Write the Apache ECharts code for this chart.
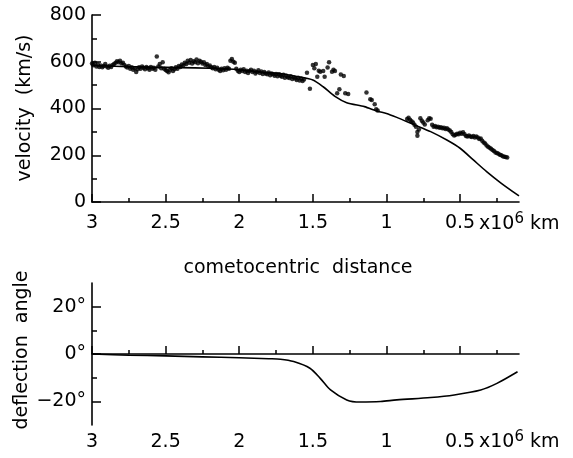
<!DOCTYPE html>
<html><head><meta charset="utf-8">
<script src="https://cdn.jsdelivr.net/npm/echarts@6/dist/echarts.min.js"></script>
<style>html,body{margin:0;padding:0;background:#fff}#c{width:573px;height:458px}</style>
</head><body><div id="c"></div>
<script>
// Model velocity curve (distance in 10^6 km, velocity km/s)
const modelDist = [3.0, 2.8, 2.6, 2.4, 2.2, 2.0, 1.84, 1.72, 1.6, 1.5, 1.43, 1.35, 1.27, 1.15, 1.06, 1.0, 0.93, 0.81, 0.7, 0.59, 0.5, 0.41, 0.32, 0.22, 0.1];
const modelVel  = [584, 580, 577, 575, 572, 566, 555, 550, 536, 522, 493, 452, 425, 408, 388, 379, 362, 330, 301, 265, 230, 180, 130, 80, 26];

// Measured velocity (dots)
const dotDist = [
 3.00,2.99,2.98,2.97,2.96,2.95,2.94,2.93,2.92,2.91,2.90,2.89,2.88,2.87,2.86,2.85,2.84,2.83,2.82,2.81,
 2.80,2.79,2.78,2.77,2.76,2.75,2.74,2.73,2.72,2.71,2.70,2.69,2.68,2.67,2.66,2.65,2.64,2.63,2.62,2.61,
 2.60,2.59,2.58,2.57,2.56,2.55,2.54,2.53,2.52,2.51,2.50,2.49,2.48,2.47,2.46,2.45,2.44,2.43,2.42,2.41,
 2.40,2.39,2.38,2.37,2.36,2.35,2.34,2.33,2.32,2.31,2.30,2.29,2.28,2.27,2.26,2.25,2.24,2.23,2.22,2.21,
 2.20,2.19,2.18,2.17,2.16,2.15,2.14,2.13,2.12,2.11,2.10,2.09,2.08,2.07,2.06,2.05,2.04,2.03,2.02,2.01,
 2.00,1.99,1.98,1.97,1.96,1.95,1.94,1.93,1.92,1.91,1.90,1.89,1.88,1.87,1.86,1.85,1.84,1.83,1.82,1.81,
 1.80,1.79,1.78,1.77,1.76,1.75,1.74,1.73,1.72,1.71,1.70,1.69,1.68,1.67,1.66,1.65,1.64,1.63,1.62,1.61,
 1.60,1.59,1.58,1.57,1.56,
 1.54,1.52,1.50,1.49,1.48,1.47,1.46,1.45,1.43,1.42,1.40,1.39,1.37,1.36,1.35,1.31,1.29,1.335,1.32,1.28,1.26,1.136,1.11,1.10,1.08,1.07,1.06,
 0.86,0.85,0.84,0.83,0.82,0.81,0.80,0.79,0.79,0.78,0.77,0.76,0.75,0.74,0.72,0.71,0.70,0.69,0.68,0.67,
 0.66,0.65,0.64,0.63,0.62,0.61,0.60,0.59,0.58,0.57,0.56,0.55,0.54,0.53,0.52,0.51,0.50,0.49,0.48,0.47,
 0.46,0.45,0.44,0.43,0.42,0.41,0.40,0.39,0.38,0.37,0.36,0.35,0.34,0.33,0.32,0.31,0.30,0.29,0.28,0.27,
 0.26,0.25,0.24,0.23,0.22,0.21,0.20,0.19,0.18
];
const dotVel = [
 592,585,596,580,588,578,584,576,582,590,580,574,583,578,586,590,596,602,598,604,
 592,596,586,580,575,582,570,576,566,572,556,568,576,570,580,574,568,578,572,566,
 578,570,574,566,622,580,590,572,598,570,565,560,555,566,572,560,568,576,570,582,
 578,588,584,596,590,604,596,608,592,602,598,610,594,604,600,592,598,586,590,580,
 584,576,572,578,568,574,566,560,570,564,572,566,574,570,604,612,600,596,570,562,
 556,566,560,568,556,562,552,560,566,556,562,550,556,564,552,558,548,556,550,546,
 554,542,550,546,540,548,538,546,540,536,544,532,540,534,530,538,526,534,528,522,
 532,520,528,518,524,
 553,484,586,572,590,536,562,557,560,536,575,598,557,566,560,545,539,465,482,465,462,468,440,436,418,397,391,
 355,360,352,345,340,330,322,300,283,310,358,348,340,332,350,358,356,330,322,325,
 320,322,318,320,316,318,312,315,310,306,300,290,284,288,292,290,296,292,298,290,
 282,280,285,280,278,282,276,280,276,270,272,262,255,250,242,236,232,228,222,218,
 212,210,206,202,200,196,194,192,190
];

// Deflection angle curve
const defDist  = [3.0, 2.75, 2.5, 2.25, 2.0, 1.8, 1.72, 1.63, 1.52, 1.45, 1.38, 1.27, 1.18, 1.04, 0.93, 0.70, 0.54, 0.36, 0.25, 0.11];
const defAngle = [0, -0.5, -0.8, -1.2, -1.6, -2.0, -2.2, -3.2, -6, -10.3, -15.2, -19.4, -20.3, -20.1, -19.4, -18.4, -17.3, -15.2, -12.4, -7.5];

// Ticks
const distMajor = [3, 2.5, 2, 1.5, 1, 0.5];
const distMinor = [2.75, 2.25, 1.75, 1.25, 0.75, 0.25];
const velMajor = [0, 200, 400, 600, 800];
const velMinor = [100, 300, 500, 700];
const angMajor = [-20, 0, 20];
const angMinor = [-10, 10];

const FONT = 'DejaVu Sans';
const FS = 19;
const INK = '#000';

const dots = dotDist.map((d, i) => [d, dotVel[i]]);
const model = modelDist.map((d, i) => [d, modelVel[i]]);
const defl = defDist.map((d, i) => [d, defAngle[i]]);

function xAx(grid, vals, len, labels, line) {
  return {
    type: 'value', gridIndex: grid, min: 0.1, max: 3, inverse: true, position: 'bottom',
    axisLine: {show: line, lineStyle: {color: INK, width: 1.6}},
    axisTick: {show: true, inside: false, length: -len, customValues: vals, lineStyle: {color: INK, width: 1.5}},
    axisLabel: {show: labels, customValues: vals, color: INK, fontFamily: FONT, fontSize: FS, margin: grid === 0 ? 12 : 8,
      formatter: v => String(v)},
    splitLine: {show: false}
  };
}
function yAx(grid, min, max, vals, len, labels, line, fmt) {
  return {
    type: 'value', gridIndex: grid, min: min, max: max, position: 'left',
    axisLine: {show: line, lineStyle: {color: INK, width: 1.6}},
    axisTick: {show: true, inside: false, length: -len, customValues: vals, lineStyle: {color: INK, width: 1.5}},
    axisLabel: {show: labels, customValues: vals, color: INK, fontFamily: FONT, fontSize: FS, margin: 6, formatter: fmt},
    splitLine: {show: false}
  };
}

const unitRich = {
  a: {fontFamily: FONT, fontSize: FS, color: INK},
  b: {fontFamily: FONT, fontSize: 15, color: INK, padding: [0, 0, 10, 0]}
};

const chart = echarts.init(document.getElementById('c'), null, {renderer: 'canvas'});
chart.setOption({
  animation: false,
  backgroundColor: '#fff',
  grid: [
    {left: 92, top: 15, width: 427, height: 187},
    {left: 92, top: 283, width: 427, height: 142}
  ],
  xAxis: [
    xAx(0, distMajor, 8, true, true),
    xAx(0, distMinor, 4, false, false),
    xAx(1, distMajor, 8, true, true),
    xAx(1, distMinor, 4, false, false)
  ],
  yAxis: [
    yAx(0, 0, 800, velMajor, 9, true, true, v => String(v)),
    yAx(0, 0, 800, velMinor, 5, false, false, v => ''),
    yAx(1, -30, 30, angMajor, 9, true, true, v => (v < 0 ? '\u221220' : String(v)) + '\u00b0'),
    yAx(1, -30, 30, angMinor, 5, false, false, v => '')
  ],
  series: [
    {type: 'line', xAxisIndex: 0, yAxisIndex: 0, data: model, showSymbol: false, smooth: 0.25,
      lineStyle: {color: INK, width: 1.6}, z: 2},
    {type: 'scatter', xAxisIndex: 0, yAxisIndex: 0, data: dots, symbol: 'circle', symbolSize: 4.5,
      itemStyle: {color: INK}, z: 3},
    {type: 'line', xAxisIndex: 2, yAxisIndex: 2, data: defl, showSymbol: false, smooth: 0.3,
      lineStyle: {color: INK, width: 1.6}}
  ],
  graphic: [
    {type: 'text', x: 25, y: 108, rotation: Math.PI / 2,
      style: {text: 'velocity  (km/s)', fontFamily: FONT, fontSize: FS, fill: INK, align: 'center', verticalAlign: 'middle'}},
    {type: 'text', x: 22, y: 350, rotation: Math.PI / 2,
      style: {text: 'deflection  angle', fontFamily: FONT, fontSize: FS, fill: INK, align: 'center', verticalAlign: 'middle'}},
    {type: 'text', x: 298, y: 268,
      style: {text: 'cometocentric  distance', fontFamily: FONT, fontSize: FS, fill: INK, align: 'center', verticalAlign: 'middle'}},
    {type: 'text', x: 479, y: 224,
      style: {text: '{a|x10}{b|6}{a| km}', rich: unitRich, align: 'left', verticalAlign: 'middle'}},
    {type: 'text', x: 479, y: 442,
      style: {text: '{a|x10}{b|6}{a| km}', rich: unitRich, align: 'left', verticalAlign: 'middle'}}
  ]
});
</script></body></html>
